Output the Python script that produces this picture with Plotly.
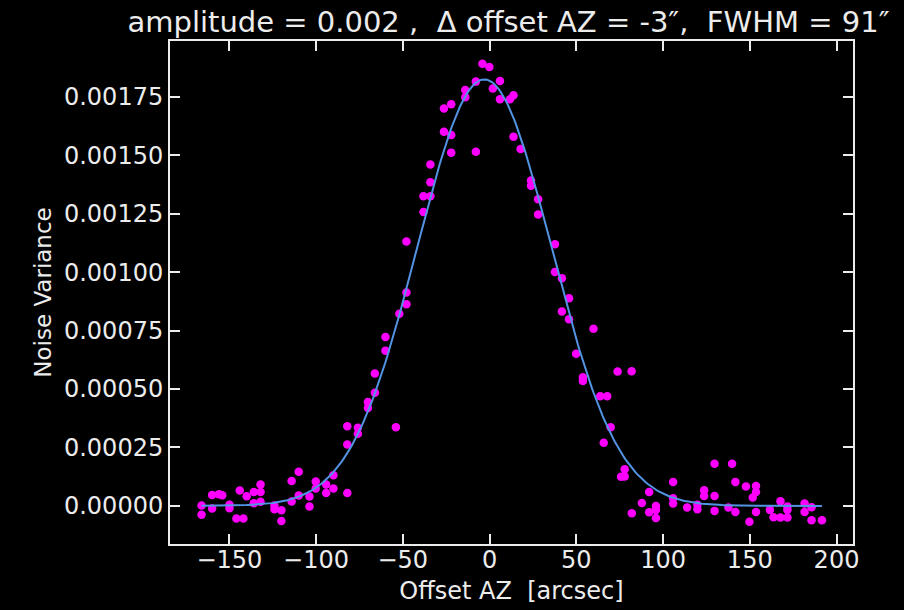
import numpy as np
import plotly.graph_objects as go

# Measured noise variance versus azimuth offset (arcsec)
offset_az = [
    -166.0, -166.0, -159.9, -159.9, -156.0, -154.1, -149.9, -149.9, -145.9, -141.9,
    -144.0, -140.0, -135.9, -132.0, -132.0, -135.9, -132.0, -124.0, -124.0, -120.0,
    -120.0, -114.1, -110.0, -114.1, -110.0, -103.8, -103.8, -100.2, -100.2, -94.2,
    -94.2, -90.0, -90.0, -82.0, -82.0, -82.0, -75.9, -75.9, -70.1, -70.1,
    -66.1, -66.1, -60.0, -60.0, -54.0, -52.0, -47.9, -47.9, -47.9, -38.1,
    -38.1, -34.1, -34.1, -34.1, -26.3, -22.1, -22.1, -26.3, -22.1, -14.0,
    -14.0, -7.9, -7.9, -4.1, -0.1, 1.9, 6.0, 6.0, 11.8, 13.8,
    13.8, 17.9, 23.9, 23.9, 28.0, 28.0, 37.7, 37.7, 41.7, 45.8,
    41.7, 45.8, 59.9, 49.9, 53.8, 53.8, 73.8, 81.9, 63.8, 67.8,
    69.8, 65.8, 77.9, 75.8, 77.9, 82.0, 87.8, 92.0, 92.0, 95.9,
    95.9, 95.9, 105.8, 105.8, 105.8, 113.9, 119.8, 119.8, 123.7, 123.7,
    129.7, 129.7, 129.7, 137.7, 139.8, 141.7, 141.7, 147.8, 153.6, 153.6,
    151.7, 153.6, 149.8, 161.6, 163.7, 167.7, 167.7, 171.7, 171.7, 171.7,
    181.6, 181.6, 185.6, 185.6, 191.6,
]
noise_variance_e5 = [
    0.17, -3.75, 4.69, -1.11, 4.99, 4.56, 0.51, -0.98, -5.37, -5.37,
    6.56, 4.13, 5.97, 9.16, 5.97, 1.15, 1.79, 0.17, -1.41, -1.83,
    -6.43, 10.65, 14.57, 1.87, 4.43, 4.05, -0.26, 10.40, 7.41, 9.16,
    5.54, 13.08, 7.41, 5.54, 26.29, 34.05, 33.41, 30.85, 44.40, 41.84,
    48.45, 56.67, 66.43, 72.31, 33.66, 82.24, 86.24, 91.27, 113.09, 125.70,
    132.52, 132.52, 138.48, 146.02, 160.09, 158.68, 151.14, 170.01, 171.89, 177.98,
    174.87, 181.52, 151.56, 189.19, 187.78, 178.54, 181.82, 174.02, 174.02, 175.72,
    157.95, 152.71, 139.21, 136.99, 131.20, 124.72, 111.94, 100.09, 97.45, 88.80,
    83.17, 79.89, 75.80, 65.07, 55.05, 53.48, 57.52, 57.61, 46.87, 46.87,
    33.66, 27.01, 15.64, 12.44, 12.53, -3.11, 1.24, 5.92, -2.68, 0.00,
    -1.70, -5.16, 10.23, 3.28, 1.02, -0.68, 0.51, -1.41, 6.69, 4.26,
    18.07, 4.26, -2.13, -0.68, 18.07, 10.23, -2.60, 8.31, 8.48, 5.97,
    3.58, -2.60, -6.82, -1.70, -4.81, 2.00, -4.94, -0.26, -1.70, -4.94,
    1.07, -2.60, -0.55, -6.18, -6.18,
]
noise_variance = [v * 1e-5 for v in noise_variance_e5]

# Gaussian fit parameters
fit_amplitude = 0.001825
fit_offset = -3.0
fit_fwhm = 91.0

x_ticks = [-150, -100, -50, 0, 50, 100, 150, 200]
x_tick_text = ["\u2212150", "\u2212100", "\u221250", "0", "50", "100", "150", "200"]
y_ticks = [0.0, 0.00025, 0.0005, 0.00075, 0.001, 0.00125, 0.0015, 0.00175]

sigma = fit_fwhm / (2.0 * np.sqrt(2.0 * np.log(2.0)))
x_fit = np.linspace(min(offset_az), max(offset_az), 400)
y_fit = fit_amplitude * np.exp(-0.5 * ((x_fit - fit_offset) / sigma) ** 2)

FG = "#ececec"
FONT = "DejaVu Sans"

fig = go.Figure()
fig.add_trace(go.Scatter(
    x=offset_az, y=noise_variance, mode="markers",
    marker=dict(color="#ff00ff", size=8.5, line=dict(width=0)),
    showlegend=False,
))
fig.add_trace(go.Scatter(
    x=x_fit, y=y_fit, mode="lines",
    line=dict(color="#5393e3", width=2),
    showlegend=False,
))

title_text = (f"amplitude = {fit_amplitude:.3f} ,  \u0394 offset AZ = {fit_offset:.0f}\u2033,"
              f"  FWHM = {fit_fwhm:.0f}\u2033")

axis_common = dict(
    showline=True, linecolor=FG, linewidth=2, mirror="ticks",
    ticks="inside", ticklen=10, tickwidth=2, tickcolor=FG,
    showgrid=False, zeroline=False, automargin=False,
    tickfont=dict(family=FONT, size=24, color=FG),
)

fig.update_layout(
    width=904, height=610,
    margin=dict(l=170, r=51, t=41, b=66),
    paper_bgcolor="black", plot_bgcolor="black",
    title=dict(text=title_text, x=0.5625, xanchor="center", y=1 - 22 / 610,
               yanchor="middle", yref="container",
               font=dict(family=FONT, size=29, color=FG)),
    xaxis=dict(
        range=[-184.2, 209.5], tickmode="array", tickvals=x_ticks, ticktext=x_tick_text,
        ticklabelstandoff=-7,
        title=dict(text="Offset AZ  [arcsec]", standoff=9,
                   font=dict(family=FONT, size=24, color=FG)),
        **axis_common,
    ),
    yaxis=dict(
        range=[-0.000163, 0.001989], tickmode="array", tickvals=y_ticks,
        tickformat=".5f",
        title=dict(text="Noise Variance", standoff=6,
                   font=dict(family=FONT, size=23, color=FG)),
        **axis_common,
    ),
)

fig.write_html("out.html")
